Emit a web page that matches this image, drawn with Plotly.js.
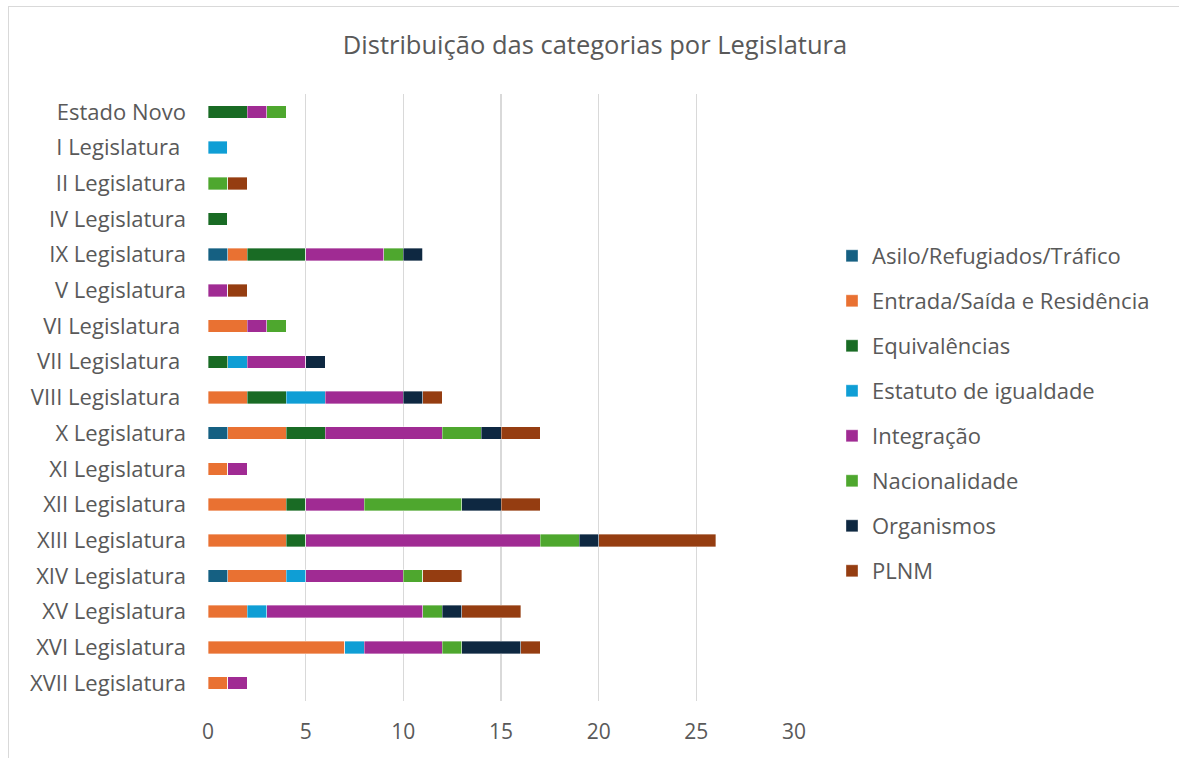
<!DOCTYPE html>
<html>
<head>
<meta charset="utf-8">
<script src="https://cdn.plot.ly/plotly-3.0.1.min.js"></script>
<style>
  html, body { margin: 0; padding: 0; background: #ffffff; }
  #wrap { position: relative; width: 1179px; height: 758px; overflow: hidden; }
  #chart { position: absolute; left: 0; top: 0; width: 1179px; height: 758px; }
  #frame { position: absolute; left: 8px; top: 6px; width: 1300px; height: 900px;
           border-top: 1px solid #d9d9d9; border-left: 1px solid #d9d9d9; pointer-events: none; }
</style>
</head>
<body>
<div id="wrap"><div id="chart"></div><div id="frame"></div></div>
<script>
const legislaturas = [
  "Estado Novo", "I Legislatura\u00a0", "II Legislatura", "IV Legislatura", "IX Legislatura",
  "V Legislatura", "VI Legislatura\u00a0", "VII Legislatura\u00a0", "VIII Legislatura\u00a0",
  "X Legislatura", "XI Legislatura", "XII Legislatura", "XIII Legislatura", "XIV Legislatura",
  "XV Legislatura", "XVI Legislatura", "XVII Legislatura"
];
const seriesNames = [
  "Asilo/Refugiados/Tráfico", "Entrada/Saída e Residência", "Equivalências",
  "Estatuto de igualdade", "Integração", "Nacionalidade", "Organismos", "PLNM"
];
const asilo        = [0,0,0,0,1,0,0,0,0,1,0,0,0,1,0,0,0];
const entrada      = [0,0,0,0,1,0,2,0,2,3,1,4,4,3,2,7,1];
const equivalencias= [2,0,0,1,3,0,0,1,2,2,0,1,1,0,0,0,0];
const estatuto     = [0,1,0,0,0,0,0,1,2,0,0,0,0,1,1,1,0];
const integracao   = [1,0,0,0,4,1,1,3,4,6,1,3,12,5,8,4,1];
const nacionalidade= [1,0,1,0,1,0,1,0,0,2,0,5,2,1,1,1,0];
const organismos   = [0,0,0,0,1,0,0,1,1,1,0,2,1,0,1,3,0];
const plnm         = [0,0,1,0,0,1,0,0,1,2,0,2,6,2,3,1,0];
const seriesValues = [asilo, entrada, equivalencias, estatuto, integracao, nacionalidade, organismos, plnm];
const colors = ["#156082", "#E97132", "#196B24", "#0F9ED5", "#A02B93", "#4EA72E", "#0E2841", "#953D11"];

const FONT = "'Open Sans', 'Liberation Sans', sans-serif";
const traces = seriesNames.map((name, i) => ({
  type: "bar",
  orientation: "h",
  name: name,
  x: seriesValues[i],
  y: legislaturas,
  legendgroup: "g" + i,
  marker: { color: colors[i], line: { color: "rgba(255,255,255,0.6)", width: 0.6 } },
  hoverinfo: "x+y+name"
}));

const layout = {
  width: 1179, height: 758,
  paper_bgcolor: "#ffffff", plot_bgcolor: "#ffffff",
  barmode: "stack",
  bargap: 0.65,
  margin: { l: 208, r: 385, t: 94, b: 57, pad: 0 },
  font: { family: FONT, color: "#595959", size: 21 },
  title: {
    text: "Distribuição das categorias por Legislatura",
    font: { family: FONT, size: 25.5, color: "#595959" },
    xref: "container", x: 595 / 1179, xanchor: "center",
    yref: "container", y: 1 - 45 / 758, yanchor: "middle"
  },
  xaxis: {
    range: [0, 30], dtick: 5, tick0: 0,
    showgrid: true, gridcolor: "#d9d9d9", gridwidth: 1.3,
    zeroline: false, showline: false, ticks: "",
    ticklabelstandoff: 16,
    tickfont: { family: FONT, size: 21, color: "#595959" },
    fixedrange: true
  },
  yaxis: {
    type: "category",
    categoryorder: "array", categoryarray: legislaturas,
    autorange: "reversed",
    showgrid: false, zeroline: false, showline: false, ticks: "",
    ticklabelstandoff: 21,
    tickfont: { family: FONT, size: 22, color: "#595959" },
    fixedrange: true
  },
  legend: {
    x: (832 - 208) / 586, xanchor: "left",
    y: 1 - (413.5 - 94) / 607, yanchor: "middle",
    font: { family: FONT, size: 22, color: "#595959" },
    tracegroupgap: 13.4,
    traceorder: "grouped",
    bgcolor: "rgba(0,0,0,0)"
  },
  showlegend: true
};

Plotly.newPlot("chart", traces, layout, { displayModeBar: false, staticPlot: true });
</script>
</body>
</html>
